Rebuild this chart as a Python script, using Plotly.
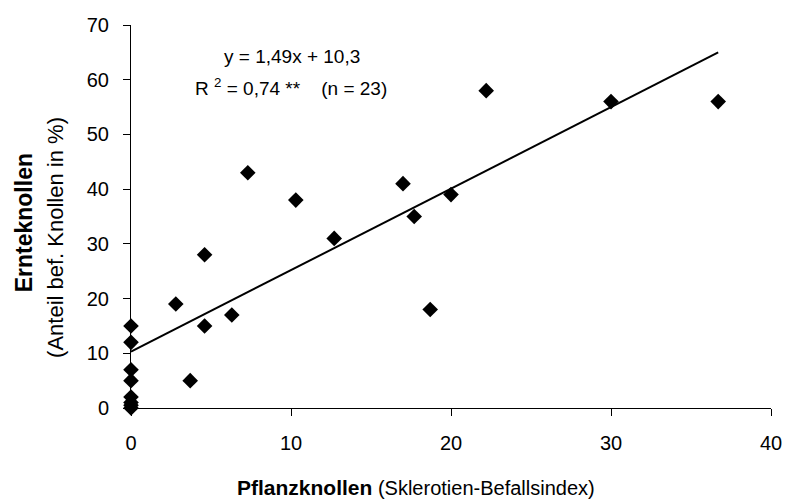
import plotly.graph_objects as go

# ---- data ----
pflanz = [0, 0, 0, 0, 0, 0, 0, 0, 2.8, 3.7, 4.6, 4.6, 6.3, 7.3, 10.3, 12.7,
          17.0, 17.7, 18.7, 20.0, 22.2, 30.0, 36.7]
ernte = [15, 12, 7, 5, 2, 1, 0.5, 0, 19, 5, 28, 15, 17, 43, 38, 31,
         41, 35, 18, 39, 58, 56, 56]
slope = 1.49
intercept = 10.3
fit_x = [0, 36.7]
fit_y = [intercept + slope * v for v in fit_x]
x_ticks = [0, 10, 20, 30, 40]
y_ticks = [0, 10, 20, 30, 40, 50, 60, 70]

W, H = 794, 502
L, R, T, B = 131, 15, 25, 94
PW, PH = W - L - R, H - T - B
FONT = "Liberation Sans, Arial, sans-serif"


def px(x):
    return (x - L) / PW


def py(y):
    return (H - B - y) / PH


fig = go.Figure()
fig.add_trace(go.Scatter(x=fit_x, y=fit_y, mode="lines",
                         line=dict(color="black", width=2),
                         hoverinfo="skip", showlegend=False))
fig.add_trace(go.Scatter(x=pflanz, y=ernte, mode="markers",
                         marker=dict(symbol="diamond", size=12, color="black"),
                         cliponaxis=False, showlegend=False))

axis_common = dict(showline=True, linecolor="black", linewidth=1,
                   ticks="outside", ticklen=7, tickcolor="black", tickwidth=1,
                   showgrid=False, zeroline=False,
                   tickfont=dict(family=FONT, size=20, color="black"))
fig.update_xaxes(range=[0, 40], tickvals=x_ticks, ticklabelstandoff=10,
                 **axis_common)
fig.update_yaxes(range=[0, 70], tickvals=y_ticks, ticklabelstandoff=10,
                 **axis_common)

ann = [
    dict(text="<b>Ernteknollen</b>", x=px(23), y=py(223), textangle=-90,
         font=dict(size=23)),
    dict(text="(Anteil bef. Knollen in %)", x=px(54), y=py(237), textangle=-90,
         font=dict(size=22)),
    dict(text="<b>Pflanzknollen</b><span style='font-size:20px'> (Sklerotien-Befallsindex)</span>",
         x=px(420), y=py(487), font=dict(size=21)),
    dict(text="y = 1,49x + 10,3", x=px(294), y=py(57), font=dict(size=19)),
    dict(text="R <sup>2</sup> = 0,74 **&nbsp;&nbsp;&nbsp;&nbsp;(n = 23)", x=px(293), y=py(87),
         font=dict(size=19)),
]
for a in ann:
    a.update(xref="paper", yref="paper", xanchor="center", yanchor="middle",
             showarrow=False)
    a["font"].update(family=FONT, color="black")
fig.update_layout(annotations=ann)

fig.update_layout(width=W, height=H, margin=dict(l=L, r=R, t=T, b=B),
                  plot_bgcolor="white", paper_bgcolor="white",
                  font=dict(family=FONT, color="black"))

fig.write_html("out.html")
